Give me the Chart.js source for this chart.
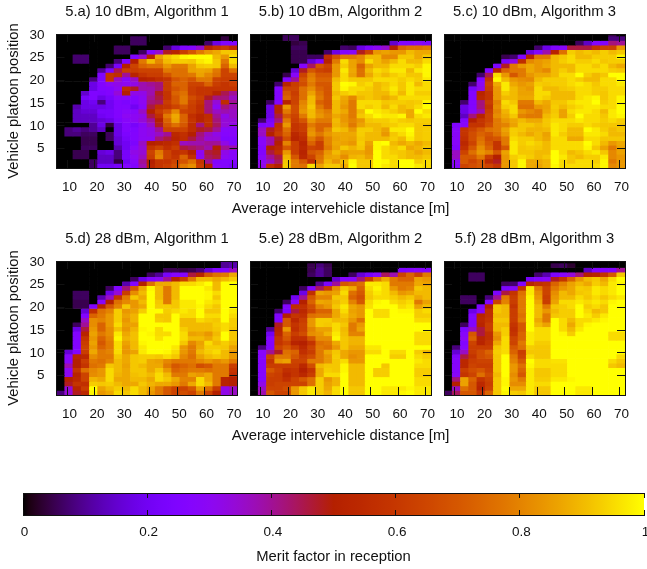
<!DOCTYPE html>
<html>
<head>
<meta charset="utf-8">
<script src="https://cdn.jsdelivr.net/npm/chart.js@4"></script>
<style>
html, body { margin: 0; padding: 0; background: #fff; overflow: hidden; width: 647px; height: 569px; }
canvas { position: absolute; }
</style>
</head>
<body>
<canvas id="c0"></canvas><canvas id="c1"></canvas><canvas id="c2"></canvas>
<canvas id="c3"></canvas><canvas id="c4"></canvas><canvas id="c5"></canvas>
<canvas id="bar"></canvas>
<script>
// axis values, cell centres as they sit on the axes of the picture
var distances = [7.5,10.5,13.5,16.5,19.5,22.5,25.5,28.5,31.5,34.5,37.5,40.5,43.5,46.5,49.5,52.5,55.5,58.5,61.5,64.5,67.5,70.5];
var positions = [30.26,29.26,28.26,27.26,26.26,25.26,24.26,23.26,22.26,21.26,20.26,19.26,18.26,17.26,16.26,15.26,14.26,13.26,12.26,11.26,10.26,9.26,8.26,7.26,6.26,5.26,4.26,3.26,2.26,1.26];
var xTicks = [10,20,30,40,50,60,70];
var yTicks = [5,10,15,20,25,30];
var barTicks = [0,0.2,0.4,0.6,0.8,1];
var titles = ["5.a) 10 dBm, Algorithm 1","5.b) 10 dBm, Algorithm 2","5.c) 10 dBm, Algorithm 3",
              "5.d) 28 dBm, Algorithm 1","5.e) 28 dBm, Algorithm 2","5.f) 28 dBm, Algorithm 3"];

// merit factor in percent, top row first
var panelA = [
[0,0,0,0,0,0,0,0,0,0,0,0,0,0,0,0,0,0,0,0,0,0],
[0,0,0,0,0,0,0,0,0,6,6,0,0,0,0,0,0,0,0,0,4,0],
[0,0,0,0,0,0,0,0,0,6,6,0,0,0,0,0,0,0,7,18,25,25],
[0,0,0,0,0,0,0,6,6,0,0,0,0,7,17,25,27,35,52,59,62,56],
[0,0,0,0,0,0,0,6,6,0,6,25,35,48,52,62,70,78,84,87,92,92],
[0,0,7,7,0,0,0,0,0,25,35,52,86,92,95,99,100,100,100,90,84,95],
[0,0,7,7,0,0,0,8,25,50,78,90,81,90,93,93,92,97,99,92,78,95],
[0,0,0,0,0,0,7,22,50,64,73,76,76,84,78,78,86,92,93,92,73,90],
[0,0,0,0,0,10,24,45,62,62,64,64,64,78,76,76,86,87,86,78,64,76],
[0,0,0,0,0,25,59,56,40,52,59,62,62,69,76,76,78,86,81,76,64,64],
[0,0,0,0,8,25,59,36,28,36,50,52,56,59,69,73,69,78,78,64,62,62],
[0,0,0,0,18,26,30,32,30,32,38,40,42,62,73,73,64,64,73,62,59,62],
[0,0,0,0,18,25,26,30,56,48,38,38,42,62,69,73,62,59,59,59,59,59],
[0,0,0,15,25,24,26,34,50,32,32,38,48,59,73,76,62,59,59,52,45,40],
[0,0,0,22,25,18,22,28,28,26,30,40,46,59,70,78,67,62,48,42,42,36],
[0,0,0,18,20,8,20,26,24,26,30,42,44,62,70,78,64,59,42,34,56,40],
[0,0,12,18,18,18,20,26,26,20,28,46,57,59,64,69,62,56,42,30,42,38],
[0,0,14,16,16,22,22,26,28,28,36,50,62,69,81,64,62,57,42,36,38,36],
[0,0,14,14,14,20,22,26,30,30,32,46,57,78,87,73,57,52,56,40,32,36],
[0,0,14,14,14,16,18,24,28,30,34,40,50,73,86,73,59,52,57,42,34,34],
[0,0,0,0,10,18,4,18,26,22,28,36,48,69,76,70,56,42,56,44,34,32],
[0,8,10,8,10,14,0,18,26,25,30,32,40,64,64,64,56,48,46,40,28,28],
[0,8,8,6,6,0,6,18,24,26,30,32,36,40,54,57,50,42,36,32,27,28],
[0,0,0,5,5,0,6,16,22,26,30,30,42,46,52,56,46,40,34,34,25,26],
[0,0,0,5,5,0,0,16,20,24,36,50,52,54,57,36,38,38,40,40,32,26],
[0,0,0,6,6,0,0,12,20,28,34,59,64,57,62,46,44,42,38,50,40,38],
[0,0,5,5,0,16,18,8,22,32,34,64,78,64,57,59,50,30,46,48,32,28],
[0,0,5,5,0,14,14,8,22,30,36,62,80,64,59,73,57,30,44,46,30,28],
[0,0,0,0,6,14,14,4,20,28,40,50,59,59,64,69,76,59,40,26,26,26],
[0,0,0,0,6,20,20,22,26,26,38,52,59,62,67,78,82,62,50,28,26,22]
];
var panelB = [
[0,0,0,0,5,5,0,0,0,0,0,0,0,0,0,0,0,0,0,0,0,0],
[0,0,0,0,6,6,0,0,0,0,0,0,0,0,0,0,0,0,0,0,0,0],
[0,0,0,0,0,4,5,0,0,0,0,0,0,0,0,0,0,15,26,26,28,25],
[0,0,0,0,0,6,6,0,0,0,0,7,6,18,25,30,35,50,73,76,76,78],
[0,0,0,0,0,5,5,0,0,7,18,26,28,48,64,84,86,84,84,90,87,87],
[0,0,0,0,0,5,5,6,6,56,69,78,78,81,90,90,81,81,92,92,87,92],
[0,0,0,0,0,5,5,16,26,52,78,95,86,82,95,90,86,90,95,90,90,95],
[0,0,0,0,0,0,27,44,69,64,84,93,86,73,86,90,90,95,95,95,93,99],
[0,0,0,0,0,16,48,70,64,62,84,97,87,76,90,95,93,97,97,90,97,99],
[0,0,0,0,5,28,64,78,70,70,84,95,86,76,87,93,90,93,95,92,92,99],
[0,0,0,0,26,40,69,80,73,73,90,95,92,92,92,95,95,95,93,95,93,97],
[0,0,0,7,52,62,67,78,70,70,92,100,99,93,95,90,92,95,92,97,90,95],
[0,0,0,26,64,64,76,82,73,69,92,99,95,95,93,90,93,97,92,97,95,95],
[0,0,0,26,70,62,76,86,76,69,90,93,95,92,92,90,90,95,90,97,93,93],
[0,0,0,26,73,64,76,90,78,70,92,87,81,90,92,90,87,90,95,95,95,95],
[0,0,6,26,52,64,80,90,73,69,90,86,78,95,95,95,92,93,93,92,93,99],
[0,0,18,52,84,67,82,92,78,70,90,84,78,95,93,95,90,95,90,92,95,100],
[0,0,18,52,78,67,84,90,82,78,90,87,78,90,100,97,95,93,90,87,100,95],
[0,0,18,46,70,64,78,90,84,80,87,84,78,92,95,99,97,97,99,87,95,97],
[0,7,22,42,78,62,69,84,78,78,90,84,80,84,92,93,93,95,93,92,93,93],
[0,24,26,57,84,59,62,78,73,73,89,86,78,86,90,90,92,93,95,95,92,92],
[0,36,48,59,76,59,62,82,73,81,92,90,84,93,93,90,86,97,97,100,92,93],
[0,36,50,62,73,54,59,84,78,84,87,87,87,93,90,90,84,92,95,99,92,93],
[0,28,38,48,67,52,56,78,70,80,86,87,86,92,90,90,90,93,90,97,92,93],
[0,28,38,50,80,62,52,73,62,80,87,86,84,93,86,99,100,90,87,90,87,90],
[0,26,50,54,70,62,54,64,62,78,86,92,89,92,84,99,95,92,95,87,89,92],
[0,26,46,57,84,62,52,70,73,84,90,86,87,87,84,100,95,93,92,90,87,90],
[0,28,40,46,89,70,54,64,76,86,87,82,89,90,86,100,95,95,92,90,90,92],
[0,30,36,44,92,78,70,57,78,89,84,90,99,92,92,100,99,95,100,100,93,95],
[0,32,57,50,93,78,76,95,86,92,92,87,100,92,92,100,97,95,100,100,97,95]
];
var panelC = [
[0,0,0,0,0,0,0,0,0,0,0,0,0,0,0,0,0,0,0,0,4,0],
[0,0,0,0,0,0,0,0,0,0,0,0,0,0,0,0,0,0,0,0,8,8],
[0,0,0,0,0,0,0,0,0,0,0,0,0,0,0,0,6,14,26,26,42,40],
[0,0,0,0,0,0,0,0,0,0,0,7,18,25,28,46,46,46,59,64,64,84],
[0,0,0,0,0,0,0,0,0,0,17,26,38,52,76,93,90,92,90,93,90,92],
[0,0,0,0,0,0,0,5,7,26,52,78,78,90,92,95,90,90,93,93,93,99],
[0,0,0,0,0,0,0,22,32,56,81,84,86,90,93,95,93,93,95,92,93,93],
[0,0,0,0,0,0,24,48,78,84,87,84,87,90,90,90,95,95,92,95,90,87],
[0,0,0,0,0,26,52,73,78,78,87,84,81,90,93,90,95,95,95,95,93,92],
[0,0,0,0,7,45,95,84,70,78,84,87,87,90,95,95,100,93,90,92,100,100],
[0,0,0,0,26,59,99,90,84,82,81,90,93,93,93,95,93,90,90,95,95,100],
[0,0,0,7,30,64,87,97,87,84,86,93,92,93,93,95,97,95,92,95,95,97],
[0,0,0,22,32,62,84,97,90,86,84,95,90,90,92,93,95,95,93,93,95,95],
[0,0,0,26,52,59,84,93,90,86,86,95,95,90,90,90,95,95,93,92,95,95],
[0,0,0,26,54,59,84,90,90,87,87,95,93,90,90,90,95,97,99,92,95,99],
[0,0,7,26,42,62,80,95,92,78,78,90,87,92,92,95,97,97,100,93,95,99],
[0,0,18,26,42,59,82,93,95,76,76,84,86,93,90,93,95,97,97,95,95,100],
[0,0,18,28,38,62,80,89,95,84,81,78,87,92,86,95,97,97,95,90,97,100],
[0,0,14,42,52,64,82,87,92,80,78,78,90,93,86,93,100,95,95,92,97,99],
[0,0,26,50,59,64,78,84,87,90,87,87,92,95,95,95,97,95,95,93,95,93],
[0,25,28,59,59,67,78,80,86,92,92,90,92,97,95,93,93,95,93,92,92,92],
[0,28,59,64,70,76,78,86,93,92,89,89,90,97,95,90,90,100,97,93,90,92],
[0,28,59,67,73,70,76,84,93,90,87,90,86,97,93,90,90,97,97,95,90,90],
[0,28,57,67,76,67,69,78,95,93,93,90,87,95,95,87,87,95,95,92,92,92],
[0,28,54,64,78,70,59,78,97,93,95,93,90,95,95,95,95,100,95,90,84,87],
[0,26,57,70,82,73,59,70,97,92,93,92,90,95,95,95,95,99,92,86,78,86],
[0,36,64,76,84,80,70,86,97,92,92,90,90,100,95,90,92,95,97,92,81,86],
[0,36,70,70,78,62,50,84,93,95,93,90,92,100,97,92,90,93,93,97,81,84],
[0,30,70,64,70,54,48,84,92,99,87,87,89,100,95,92,95,95,93,99,78,84],
[0,28,64,67,70,64,59,84,92,99,87,86,89,99,95,95,95,95,95,99,81,84]
];
var panelD = [
[0,0,0,0,0,0,0,0,0,0,0,0,0,0,0,0,0,0,0,0,10,10],
[0,0,0,0,0,0,0,0,0,0,0,0,0,0,0,0,0,0,0,0,10,12],
[0,0,0,0,0,0,0,0,0,0,0,0,0,5,5,4,5,8,16,26,26,36],
[0,0,0,0,0,0,0,0,0,0,0,6,10,22,27,27,46,52,70,76,78,87],
[0,0,0,0,0,0,0,0,0,6,18,26,30,40,52,62,78,90,90,87,90,93],
[0,0,0,0,0,0,0,0,12,26,50,76,87,87,90,95,95,97,100,90,100,100],
[0,0,0,0,0,0,6,26,42,70,87,99,90,78,90,100,100,100,97,90,100,100],
[0,0,6,6,0,0,18,34,62,82,90,100,90,78,90,100,100,100,99,95,100,100],
[0,0,6,6,0,12,36,59,78,92,87,100,90,78,90,100,100,100,99,92,100,100],
[0,0,5,5,0,28,50,76,81,84,90,100,92,78,92,97,97,100,97,95,100,100],
[0,0,5,5,26,52,70,80,92,84,87,100,93,93,92,97,97,99,95,92,100,100],
[0,0,0,16,57,76,80,93,84,86,93,100,100,93,95,97,95,100,92,92,100,97],
[0,0,0,26,73,78,84,93,86,89,100,100,92,92,100,95,95,100,95,95,100,95],
[0,0,0,36,82,80,84,93,84,89,100,100,93,92,100,90,90,95,93,92,100,93],
[0,0,6,40,82,73,84,95,86,86,100,100,100,100,100,90,90,90,90,93,95,93],
[0,0,18,46,84,73,82,91,84,89,99,100,95,100,100,93,90,90,90,92,95,92],
[0,0,26,52,86,78,82,97,87,91,100,99,95,95,100,95,86,87,84,90,100,92],
[0,0,26,59,84,73,80,99,89,91,100,100,96,100,100,95,90,90,87,92,100,92],
[0,0,26,62,86,70,78,95,86,90,99,100,100,100,100,92,81,86,95,90,93,90],
[0,0,26,64,84,73,78,95,84,90,97,100,100,100,97,84,78,87,93,93,92,86],
[0,16,26,62,87,78,80,95,84,86,97,100,100,99,95,84,78,90,93,95,90,84],
[0,28,52,54,82,78,78,92,87,92,93,93,92,95,92,81,76,86,90,92,90,84],
[0,28,50,62,78,76,80,90,87,92,93,87,86,81,78,78,78,81,84,81,84,78],
[0,38,50,59,76,78,92,90,86,92,90,87,87,78,70,73,76,67,70,78,78,62],
[0,30,59,76,81,84,95,90,87,92,92,87,92,84,73,76,78,78,76,78,78,59],
[0,30,52,64,82,84,95,89,87,91,92,90,95,90,78,78,86,84,87,78,78,56],
[0,50,54,64,89,87,95,87,87,90,90,87,95,92,87,80,80,95,87,78,52,50],
[0,48,59,57,93,92,93,90,87,87,92,89,87,87,84,78,87,95,90,78,52,50],
[0,34,52,62,100,86,90,93,90,95,90,86,78,70,64,64,70,86,76,62,32,36],
[8,34,48,54,99,84,87,95,92,95,90,84,78,70,64,67,64,78,64,50,32,36]
];
var panelE = [
[0,0,0,0,0,0,0,0,0,0,0,0,0,0,0,0,0,0,0,0,0,0],
[0,0,0,0,0,0,0,5,8,5,0,0,0,0,0,0,0,0,0,0,0,0],
[0,0,0,0,0,0,0,5,10,6,0,0,0,0,0,0,0,0,24,26,28,26],
[0,0,0,0,0,0,0,6,10,6,0,0,6,16,22,28,44,38,64,73,64,78],
[0,0,0,0,0,0,0,0,0,0,15,27,28,42,62,78,87,78,73,73,86,84],
[0,0,0,0,0,0,0,0,10,24,40,70,73,76,97,97,95,78,78,78,87,86],
[0,0,0,0,0,0,6,26,44,62,82,92,87,73,95,99,95,84,78,80,92,90],
[0,0,0,0,0,0,18,57,86,84,86,95,76,70,93,97,95,90,84,86,90,90],
[0,0,0,0,0,20,40,70,80,80,92,92,73,67,92,95,95,93,90,92,87,90],
[0,0,0,0,6,28,50,73,87,86,90,93,80,70,95,99,100,95,93,95,78,86],
[0,0,0,0,26,56,57,67,80,84,92,97,87,84,96,100,100,100,95,97,86,90],
[0,0,0,7,24,46,54,64,73,73,87,95,86,84,100,95,95,100,99,99,93,95],
[0,0,0,26,50,59,57,76,78,78,87,92,87,84,100,95,95,100,100,100,93,93],
[0,0,0,26,70,54,62,84,93,93,90,90,84,76,100,100,100,100,100,100,95,95],
[0,0,0,48,70,59,64,84,93,92,95,92,78,84,100,100,100,100,100,100,100,100],
[0,0,10,52,84,57,64,80,86,86,95,90,78,86,100,100,100,100,100,100,100,100],
[0,0,20,54,73,62,67,82,84,89,97,91,80,80,100,100,100,100,100,100,95,95],
[0,0,26,59,70,57,57,70,82,82,99,92,89,89,100,100,100,100,100,100,95,95],
[0,0,26,59,64,52,50,59,76,78,87,92,89,89,100,100,100,100,100,100,95,95],
[0,8,26,64,70,62,54,64,78,76,84,92,87,87,97,97,100,100,100,100,100,100],
[0,28,40,48,76,73,57,62,78,87,92,87,84,84,95,95,100,95,95,100,93,90],
[0,27,64,78,78,70,62,67,78,84,93,87,82,84,100,100,100,93,93,100,95,93],
[0,27,59,84,86,64,64,78,78,84,92,95,84,84,100,100,100,100,100,100,97,95],
[0,27,62,62,62,62,54,67,90,92,92,99,90,90,100,100,92,100,100,100,95,95],
[0,27,70,64,57,59,50,59,87,93,92,99,90,90,100,93,93,100,100,100,93,93],
[0,27,64,62,54,59,54,62,87,95,95,100,90,90,100,93,93,100,100,100,93,93],
[0,27,62,62,57,64,70,76,93,84,89,100,90,90,100,100,100,100,100,100,95,95],
[0,32,62,64,64,64,64,76,93,86,89,100,90,90,100,100,100,100,100,100,95,95],
[0,36,64,64,67,84,92,97,93,87,95,100,92,92,100,100,97,97,97,99,97,97],
[0,38,70,64,64,84,92,97,93,89,95,100,92,92,100,100,97,97,99,100,97,97]
];
var panelF = [
[0,0,0,0,0,0,0,0,0,0,0,0,0,0,0,0,0,0,0,0,0,0],
[0,0,0,0,0,0,0,0,0,0,0,0,0,5,6,3,0,0,0,0,0,0],
[0,0,0,0,0,0,0,0,0,0,0,0,0,0,0,0,0,14,26,26,26,40],
[0,0,0,6,6,0,0,0,0,0,0,7,12,24,28,34,42,50,52,59,70,92],
[0,0,0,6,6,0,0,0,0,0,22,26,28,48,59,73,84,90,92,87,95,100],
[0,0,0,0,0,0,0,6,7,26,52,57,59,73,80,86,90,87,93,90,97,99],
[0,0,0,0,0,0,0,24,28,59,97,78,64,78,84,87,93,92,97,95,97,100],
[0,0,0,0,0,0,24,46,59,76,97,82,64,82,90,87,92,93,97,95,97,100],
[0,0,6,6,0,8,40,78,62,78,99,84,62,84,90,90,95,92,95,92,95,97],
[0,0,6,6,0,26,64,80,62,78,100,87,62,86,95,95,97,95,97,95,99,100],
[0,0,0,0,25,50,92,90,59,78,100,90,78,92,93,95,100,93,95,92,100,100],
[0,0,0,18,28,57,92,90,62,78,100,90,84,90,93,93,100,95,90,92,100,100],
[0,0,0,26,52,57,90,90,62,76,100,90,78,92,93,93,100,97,93,97,100,100],
[0,0,0,26,54,59,92,92,62,78,100,87,78,100,95,90,95,95,97,99,100,100],
[0,0,6,26,52,62,90,90,59,70,100,90,86,100,95,87,95,99,100,100,100,100],
[0,0,24,36,46,62,90,93,57,70,100,95,95,100,95,90,97,100,100,100,100,100],
[0,0,28,70,46,57,84,93,59,73,97,95,95,100,99,93,100,100,100,100,95,95],
[0,0,30,73,52,57,82,95,64,73,97,95,95,100,100,100,100,100,100,100,95,95],
[0,0,26,64,52,59,87,95,64,78,97,93,93,100,100,100,100,100,100,100,100,100],
[0,8,28,62,62,62,92,95,70,76,93,92,92,100,100,100,100,100,100,100,100,100],
[0,16,36,62,67,73,93,95,73,62,92,92,92,100,100,100,100,100,100,100,100,100],
[0,26,46,59,67,70,92,100,78,64,95,92,92,100,100,100,100,100,100,100,100,95],
[0,27,54,62,64,64,92,100,80,70,100,95,95,96,96,100,100,100,100,100,95,92],
[0,27,54,64,62,62,92,100,84,76,99,95,95,95,95,100,100,100,100,100,92,90],
[0,27,62,67,70,64,92,100,84,73,97,92,92,95,95,100,100,100,100,100,100,100],
[0,28,59,64,76,67,90,100,82,70,97,92,92,95,95,100,100,100,100,100,100,100],
[0,42,86,73,59,64,92,99,84,78,97,93,93,97,97,99,100,100,100,100,100,100],
[0,50,86,70,54,62,92,99,82,82,97,95,95,100,100,100,100,100,100,100,100,100],
[0,36,76,70,52,64,92,100,87,87,97,92,92,100,100,100,97,97,100,100,100,100],
[6,44,70,70,59,73,92,99,93,92,97,92,92,100,100,100,97,97,100,100,100,100]
];
var panels = [panelA, panelB, panelC, panelD, panelE, panelF];

var FONT = "'Liberation Sans', Arial, sans-serif";
var TICK_SIZE = 13.5;
var LABEL_SIZE = 14.8;
var INK = "#111";
var X_MIN = 6, X_MAX = 72, Y_MIN = 0.76, Y_MAX = 30.2;

// gnuplot default palette (rgbformulae 7,5,15)
function palette(t){
    var r = Math.sqrt(t);
    var g = t * t * t;
    var b = Math.max(0, Math.sin(2 * Math.PI * t));
    return "rgb(" + Math.round(r*255) + "," + Math.round(g*255) + "," + Math.round(b*255) + ")";
}

function setTicks(values){
    return function(scale){
        scale.ticks = values.map(function(v){ return {value: v}; });
    };
}
function fixWidth(w){ return function(scale){ scale.width = w; }; }
function fixHeight(h){ return function(scale){ scale.height = h; }; }

function buildDatasets(rows){
    return rows.map(function(row, i){
        var y = positions[i];
        return {
            data: row.map(function(v, j){ return {x: distances[j], y: [y - 0.5, y + 0.5]}; }),
            backgroundColor: row.map(function(v){ return palette(v / 100); }),
            borderWidth: 0,
            grouped: false,
            barPercentage: 1,
            categoryPercentage: 1,
            clip: 0
        };
    });
}

function makePanel(index){
    var col = index % 3, row = Math.floor(index / 3);
    var plotLeft = [56.5, 250, 444][col];
    var plotTop = [34, 261][row];
    var canvasLeft = [0, 200, 400][col];
    var canvasWidth = [280, 281, 270][col];
    var canvasHeight = 225;
    var canvas = document.getElementById("c" + index);
    canvas.width = canvasWidth;
    canvas.height = canvasHeight;
    canvas.style.left = canvasLeft + "px";
    canvas.style.top = (plotTop - 34) + "px";

    var tickFont = {family: FONT, size: TICK_SIZE};
    var labelFont = {family: FONT, size: LABEL_SIZE};
    var gridOpts = function(len){
        return {drawOnChartArea: false, drawTicks: true, tickLength: len, tickColor: INK, tickWidth: 1, z: 1};
    };
    var borderOpts = {display: true, color: INK, width: 1, z: 1};

    new Chart(canvas, {
        type: "bar",
        data: {datasets: buildDatasets(panels[index])},
        options: {
            responsive: false,
            animation: false,
            events: [],
            plugins: {
                legend: {display: false},
                tooltip: {enabled: false},
                title: {
                    display: true,
                    text: titles[index],
                    fullSize: false,
                    color: INK,
                    font: {family: FONT, size: LABEL_SIZE, weight: "normal", lineHeight: 1.2},
                    padding: {top: 3, bottom: 13.24}
                },
                // the long axis name is wider than one panel, so it goes in the full width subtitle
                subtitle: {
                    display: col === 1,
                    text: "Average intervehicle distance [m]",
                    position: "bottom",
                    fullSize: true,
                    color: INK,
                    font: {family: FONT, size: LABEL_SIZE, weight: "normal", lineHeight: 1.2},
                    padding: {top: 1, bottom: 7}
                }
            },
            scales: {
                x: {
                    type: "linear", min: X_MIN, max: X_MAX, offset: false,
                    afterBuildTicks: setTicks(xTicks),
                    afterFit: fixHeight(canvasHeight - 34 - 134 - (col === 1 ? 25.76 : 0)),
                    grid: Object.assign(gridOpts(-8), {offset: false}),
                    border: borderOpts,
                    ticks: {color: INK, font: tickFont, padding: 19, labelOffset: 2, maxRotation: 0, autoSkip: false}
                },
                y: {
                    type: "linear", min: Y_MIN, max: Y_MAX,
                    afterBuildTicks: setTicks(yTicks),
                    afterFit: fixWidth(plotLeft - canvasLeft),
                    grid: gridOpts(-8),
                    border: borderOpts,
                    ticks: {display: col === 0, color: INK, font: tickFont, padding: 20, autoSkip: false},
                    title: {
                        display: col === 0,
                        text: "Vehicle platoon position",
                        color: INK,
                        font: labelFont,
                        padding: {top: 5, bottom: 0}
                    }
                },
                x2: {
                    type: "linear", position: "top", min: X_MIN, max: X_MAX, offset: false,
                    afterBuildTicks: setTicks(xTicks),
                    afterFit: fixHeight(0),
                    grid: Object.assign(gridOpts(-8), {offset: false}),
                    border: borderOpts,
                    ticks: {display: false}
                },
                y2: {
                    type: "linear", position: "right", min: Y_MIN, max: Y_MAX,
                    afterBuildTicks: setTicks(yTicks),
                    afterFit: fixWidth(canvasWidth - (plotLeft - canvasLeft) - 181),
                    grid: gridOpts(-8),
                    border: borderOpts,
                    ticks: {display: false}
                }
            }
        }
    });
}

for (var i = 0; i < panels.length; i++) {
    makePanel(i);
}

// colour box
var gradientBox = {
    id: "gradientBox",
    beforeDatasetsDraw: function(chart){
        var area = chart.chartArea, x = chart.scales.x, ctx = chart.ctx;
        var grad = ctx.createLinearGradient(x.getPixelForValue(0), 0, x.getPixelForValue(1), 0);
        for (var s = 0; s <= 100; s++) {
            grad.addColorStop(s / 100, palette(s / 100));
        }
        ctx.save();
        ctx.fillStyle = grad;
        ctx.fillRect(area.left, area.top, area.right - area.left, area.bottom - area.top);
        ctx.restore();
    }
};

var barCanvas = document.getElementById("bar");
barCanvas.width = 680;
barCanvas.height = 99;
barCanvas.style.left = "0px";
barCanvas.style.top = "470px";
new Chart(barCanvas, {
    type: "bar",
    data: {datasets: []},
    plugins: [gradientBox],
    options: {
        responsive: false,
        animation: false,
        events: [],
        layout: {padding: {left: 23, right: 36, top: 23, bottom: 0}},
        plugins: {legend: {display: false}, tooltip: {enabled: false}},
        scales: {
            x: {
                type: "linear", min: 0, max: 1, offset: false,
                afterBuildTicks: setTicks(barTicks),
                afterFit: fixHeight(54),
                grid: {drawOnChartArea: false, tickLength: -5, tickColor: INK, offset: false, z: 1},
                border: {color: INK, z: 1},
                ticks: {color: INK, font: {family: FONT, size: TICK_SIZE}, padding: 14, labelOffset: 1.5,
                    maxRotation: 0, autoSkip: false,
                    callback: function(v){ return String(v); }},
                title: {display: true, text: "Merit factor in reception", color: INK,
                    font: {family: FONT, size: LABEL_SIZE}, padding: {top: 0, bottom: 3}}
            },
            x2: {
                type: "linear", position: "top", min: 0, max: 1, offset: false,
                afterBuildTicks: setTicks(barTicks),
                afterFit: fixHeight(0),
                grid: {drawOnChartArea: false, tickLength: -5, tickColor: INK, offset: false, z: 1},
                border: {color: INK, z: 1},
                ticks: {display: false}
            },
            y: {display: false, min: 0, max: 1}
        }
    }
});
</script>
</body>
</html>
